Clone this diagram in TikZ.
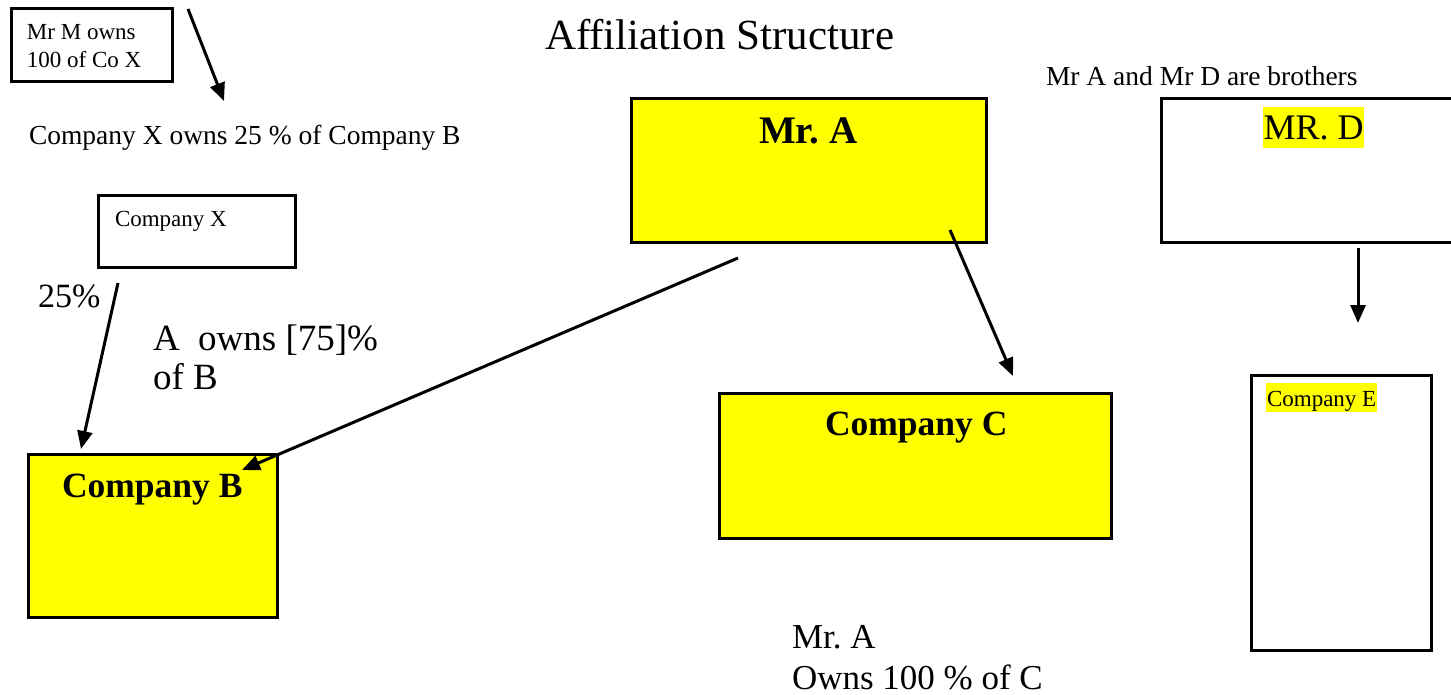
\documentclass[tikz,border=0pt]{standalone}
\usepackage{fontspec}
\setmainfont{Liberation Serif}
\usetikzlibrary{arrows.meta}
\definecolor{boxyellow}{RGB}{255,255,0}
\frenchspacing
\begin{document}
\begin{tikzpicture}[x=1pt,y=-1pt,
  box/.style={draw=black, line width=3pt, anchor=north west, inner sep=0pt, outer sep=0pt},
  ybox/.style={box, fill=boxyellow},
  lbl/.style={anchor=base west, inner sep=0pt, outer sep=0pt, font=\fontsize{#1}{#1}\selectfont},
  blbl/.style={anchor=base west, inner sep=0pt, outer sep=0pt, font=\fontsize{#1}{#1}\selectfont\bfseries},
  hl/.style={fill=boxyellow},
  own/.style={line width=3pt, -{Triangle[length=18pt,width=15pt]}}
]
\clip (0,0) rectangle (1451,695);
\fill[white] (0,0) rectangle (1451,695);

% boxes
\node[box,  minimum width=161, minimum height=73]  (mrM) at (11,9) {};
\node[box,  minimum width=197, minimum height=71]  (coX) at (98,196) {};
\node[ybox, minimum width=249, minimum height=163] (coB) at (28,454) {};
\node[ybox, minimum width=355, minimum height=144] (mrA) at (631,99) {};
\node[ybox, minimum width=392, minimum height=145] (coC) at (719,393) {};
\node[box,  minimum width=330, minimum height=144] (mrD) at (1161,99) {};
\node[box,  minimum width=180, minimum height=275] (coE) at (1251,375) {};

% texts
\node[lbl=43] (title) at (545,50) {Affiliation Structure};
\node[lbl=23] (tM1) at (27,40) {Mr M owns};
\node[lbl=23] (tM2) at (27,68) {100 of Co X};
\node[lbl=27.5] (tXB) at (29,145) {Company X owns 25 \% of Company B};
\node[lbl=23] (tX) at (115,226) {Company X};
\node[lbl=34] (t25) at (38,307) {25\%};
\node[lbl=37] (tAB1) at (153,350) {A\ \ owns [75]\%};
\node[lbl=37] (tAB2) at (153,389) {of B};
\node[blbl=35.5] (tB) at (62,497) {Company B};
\node[blbl=39] (tA) at (759,144) {Mr. A};
\node[blbl=35.5] (tC) at (825,435) {Company C};
\node[lbl=27.5] (tbro) at (1046,86) {Mr A and Mr D are brothers};
\node[lbl=36, hl, inner xsep=0.5pt, text height=33pt, text depth=8pt] (tD) at (1263,140) {MR. D};
\node[lbl=23, hl, inner xsep=1pt, text height=23pt, text depth=6pt] (tE) at (1266,406) {Company E};
\node[lbl=35] (tAC1) at (792,648) {Mr. A};
\node[lbl=35] (tAC2) at (792,689) {Owns 100 \% of C};

% connector ends
\coordinate (m1) at (188,9);    \coordinate (m2) at (224,101);
\coordinate (x1) at (118,283);  \coordinate (x2) at (81,449);
\coordinate (a1) at (738,258);  \coordinate (a2) at (242,470);
\coordinate (c1) at (950,230);  \coordinate (c2) at (1013,376);
\coordinate (d1) at (1358,248); \coordinate (d2) at (1358,323);

\draw[own] (m1) -- (m2);
\draw[own] (x1) -- (x2);
\draw[own] (a1) -- (a2);
\draw[own] (c1) -- (c2);
\draw[own] (d1) -- (d2);
\end{tikzpicture}
\end{document}
